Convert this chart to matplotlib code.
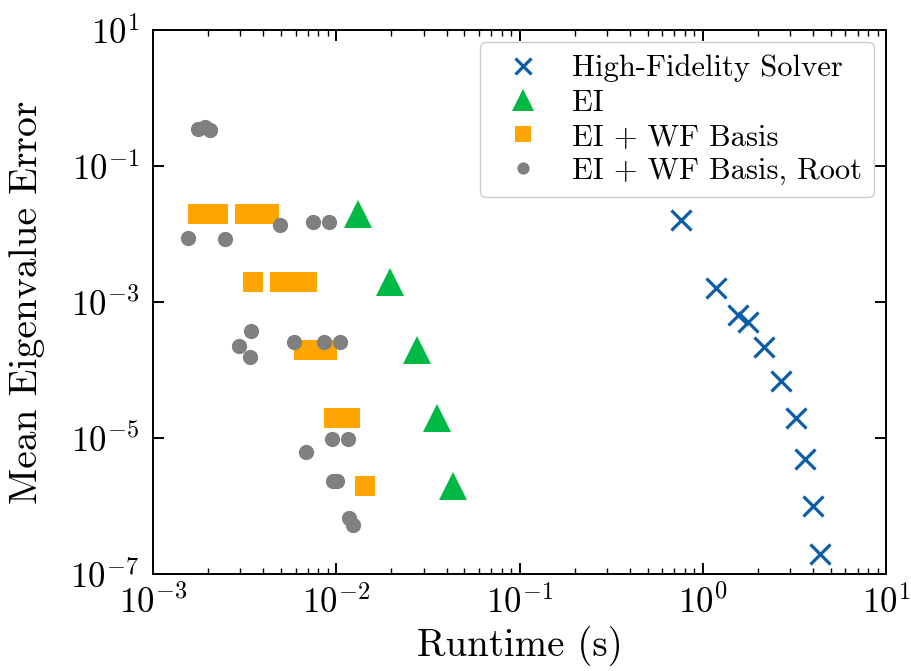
import numpy as np
from matplotlib import pyplot as plt
from matplotlib.ticker import NullLocator, LogLocator

# Datos (runtime en s, error medio de autovalores)
hf_time = [0.762, 1.18, 1.55, 1.76, 2.16, 2.67, 3.23, 3.60, 4.02, 4.37]
hf_err  = [1.6e-2, 1.6e-3, 6.4e-4, 5.1e-4, 2.2e-4, 6.9e-5, 1.97e-5, 4.9e-6, 1.0e-6, 2.0e-7]

ei_time = [1.32e-2, 1.97e-2, 2.75e-2, 3.54e-2, 4.35e-2]
ei_err  = [2e-2, 2e-3, 2e-4, 2e-5, 2e-6]

wf_time = [1.755e-3, 2.26e-3, 3.17e-3, 3.68e-3, 4.28e-3,
           3.5e-3, 4.93e-3, 5.83e-3, 6.9e-3,
           6.67e-3, 7.7e-3, 8.9e-3,
           9.77e-3, 1.19e-2,
           1.43e-2]
wf_err  = [2e-2, 2e-2, 2e-2, 2e-2, 2e-2,
           2e-3, 2e-3, 2e-3, 2e-3,
           2e-4, 2e-4, 2e-4,
           2e-5, 2e-5,
           2e-6]

root_time = [1.76e-3, 1.92e-3, 2.05e-3, 1.55e-3, 2.47e-3, 4.95e-3, 7.5e-3, 9.1e-3,
             3.43e-3, 2.96e-3, 3.38e-3, 5.9e-3, 8.6e-3, 1.045e-2,
             9.45e-3, 1.156e-2, 6.84e-3, 9.6e-3, 1.01e-2, 1.175e-2, 1.24e-2]
root_err  = [0.35, 0.37, 0.34, 8.6e-3, 8.4e-3, 1.34e-2, 1.5e-2, 1.5e-2,
             3.75e-4, 2.25e-4, 1.57e-4, 2.6e-4, 2.6e-4, 2.6e-4,
             9.6e-6, 9.6e-6, 6.3e-6, 2.33e-6, 2.33e-6, 6.6e-7, 5.3e-7]

plt.rcParams['font.family'] = 'serif'
plt.rcParams['font.serif'] = ['cmr10']
plt.rcParams['mathtext.fontset'] = 'cm'
plt.rcParams['axes.formatter.use_mathtext'] = True
plt.rcParams['axes.linewidth'] = 1.4

fig = plt.figure(figsize=(9.11, 6.71), dpi=100)
ax = fig.add_axes([153/911, 1-574/671, (886-153)/911, (574-30)/671])

ax.plot(hf_time, hf_err, 'x', ls='none', color='#0C5DA5', ms=15, mew=2.3,
        label='High-Fidelity Solver')
ax.plot(ei_time, ei_err, '^', ls='none', color='#00B945', ms=20, mew=0,
        label='EI')
ax.plot(wf_time, wf_err, 's', ls='none', color='orange', ms=14.4, mew=0,
        label='EI + WF Basis')
ax.plot(root_time, root_err, 'o', ls='none', color='gray', ms=11, mew=0,
        label='EI + WF Basis, Root')

ax.set_xscale('log')
ax.set_yscale('log')
ax.set_xlim(1e-3, 1e1)
ax.set_ylim(1e-7, 1e1)
ax.set_yticks([1e1, 1e-1, 1e-3, 1e-5, 1e-7])
ax.yaxis.set_minor_locator(NullLocator())
ax.xaxis.set_major_locator(LogLocator(base=10, numticks=10))
ax.xaxis.set_minor_locator(LogLocator(base=10, subs=np.arange(2, 10), numticks=20))

ax.tick_params(which='both', direction='in', top=True, right=True, labelsize=25)
ax.tick_params(which='major', length=8, width=1.4)
ax.tick_params(axis='x', which='major', pad=8)
ax.tick_params(axis='y', which='major', pad=10)
ax.tick_params(which='minor', length=4, width=1.0)

ax.set_xlabel('Runtime (s)', fontsize=28, labelpad=4)
ax.set_ylabel('Mean Eigenvalue Error', fontsize=28.5, labelpad=18)

ax.legend(loc='upper right', fontsize=22, markerscale=0.8, borderaxespad=0.4,
          labelspacing=0.22, handletextpad=0.6, edgecolor='0.8', framealpha=1)

plt.savefig('out.png', dpi=100)
